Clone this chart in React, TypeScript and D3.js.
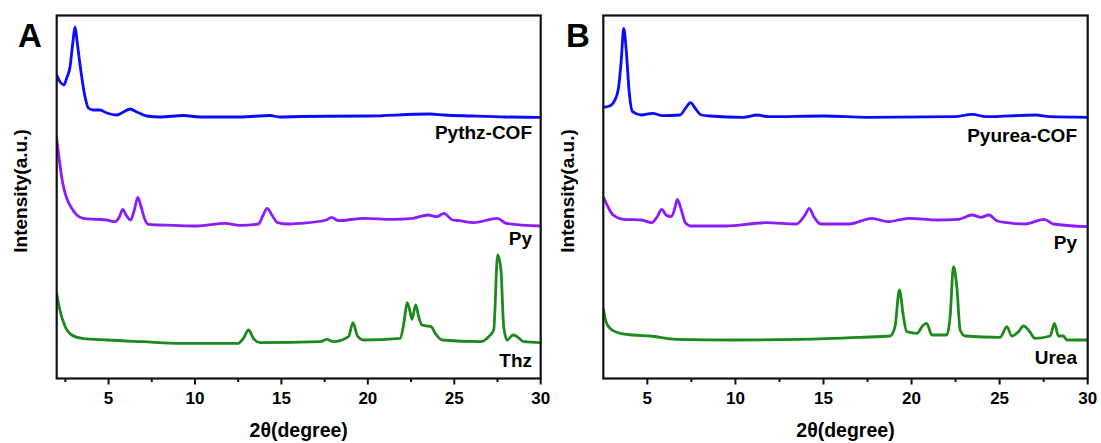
import React from "react";
import * as d3 from "d3";

// ---------- DATA (2θ in degrees, stacked intensity in a.u.) ----------
const pythzCOF: [number, number][] = [
  [2.0, 303], [2.2, 296], [2.42, 293], [2.58, 300], [2.77, 311], [2.93, 335], [3.06, 351],
  [3.19, 335], [3.39, 308], [3.64, 281], [3.83, 270], [4.12, 268], [4.5, 268], [4.9, 265],
  [5.47, 263], [5.86, 266], [6.24, 269], [6.63, 266], [7.21, 262], [7.98, 261], [9.33, 262.5],
  [10.3, 261], [12.6, 261], [14.35, 262.5], [14.9, 261], [16.1, 261.5], [20, 262], [23.6, 264],
  [24.4, 263], [26, 262], [28, 261], [30, 260.7],
];
const pyA: [number, number][] = [
  [2.0, 239.7], [2.15, 218], [2.35, 194.7], [2.58, 179.7], [2.87, 169.7], [3.16, 163],
  [3.54, 159.7], [4.32, 158.7], [4.9, 158], [5.38, 156.3], [5.63, 161.3], [5.82, 168.7],
  [6.01, 163], [6.28, 158], [6.49, 168], [6.69, 180.7], [6.88, 171.3], [7.11, 158], [7.3, 153.7],
  [8.75, 152.7], [10.1, 152], [11.75, 154.7], [12.6, 152.7], [13.67, 154], [13.9, 161.3],
  [14.18, 169.7], [14.45, 163], [14.78, 155.3], [15.32, 154], [16.09, 154.7], [17.6, 158],
  [17.9, 160.7], [18.3, 157.3], [19.76, 159.7], [21.4, 158.7], [22.6, 159.7], [23.47, 163],
  [24.0, 161.3], [24.4, 164.7], [24.9, 158], [25.3, 157.3], [26.1, 155.3], [27.5, 159.7],
  [28.0, 154.7], [30, 152],
];
const thz: [number, number][] = [
  [2.0, 84.7], [2.14, 71.3], [2.45, 53], [2.87, 43], [3.48, 39.7], [4.93, 38], [7.0, 36.3],
  [9.14, 34.7], [12.5, 34.7], [12.8, 39.7], [13.1, 48], [13.38, 39.7], [13.77, 35.3],
  [17.25, 36.3], [17.63, 38.7], [18.0, 36.3], [18.88, 41.3], [19.14, 55.3], [19.4, 42],
  [19.75, 38], [21.88, 39.7], [22.11, 58], [22.27, 75.3], [22.42, 68], [22.55, 58.7],
  [22.77, 73], [22.94, 61.3], [23.13, 53], [23.42, 52], [23.66, 51.3], [23.9, 44.7],
  [24.29, 38], [26.51, 36.3], [26.99, 41.3], [27.28, 48], [27.51, 123], [27.7, 108],
  [27.86, 51.3], [28.06, 38], [28.4, 43], [28.64, 41.3], [29.02, 36.3], [30, 35.3],
];
const pyureaCOF: [number, number][] = [
  [2.5, 270.7], [2.86, 272], [3.16, 278], [3.36, 289.7], [3.52, 318], [3.66, 349.7], [3.8, 328],
  [3.96, 288], [4.16, 266.3], [4.66, 263], [5.3, 264.7], [5.86, 262.3], [6.86, 263],
  [7.16, 269.7], [7.46, 275.3], [7.72, 269.7], [8.06, 263], [8.56, 262], [10.45, 260.7],
  [11.25, 263], [11.85, 261.3], [15.05, 262], [17.45, 260.7], [22.44, 261.3], [23.44, 263.7],
  [24.24, 261.3], [27.04, 263], [27.84, 261.3], [30, 260.7],
];
const pyB: [number, number][] = [
  [2.5, 181.3], [2.76, 171.3], [3.06, 163], [3.66, 158.7], [4.66, 158], [5.26, 155.3],
  [5.56, 161.3], [5.82, 168.7], [6.06, 163], [6.36, 161.3], [6.56, 169.7], [6.7, 178.7],
  [6.9, 169.7], [7.16, 155.3], [7.46, 152], [9.45, 152], [11.75, 155.3], [13.45, 154],
  [13.95, 163], [14.19, 169.7], [14.45, 161.3], [14.85, 154], [16.45, 154], [17.75, 159.7],
  [18.65, 156.3], [19.85, 159.7], [21.44, 158], [22.64, 158.7], [23.44, 163], [23.94, 160.7],
  [24.4, 163], [24.84, 157.3], [25.44, 155.3], [26.44, 154], [27.54, 158.7], [28.04, 154],
  [30, 151.3],
];
const urea: [number, number][] = [
  [2.5, 69.7], [2.65, 56.3], [2.88, 49.7], [3.45, 44.7], [4.2, 43], [5.15, 42], [6.67, 38.7],
  [9.88, 38], [13.67, 38.7], [17.08, 40.7], [18.78, 42], [19.06, 51.3], [19.31, 88],
  [19.54, 61.3], [19.73, 46.3], [20.3, 44.7], [20.67, 53], [20.86, 54.7], [21.15, 43],
  [22.0, 43], [22.19, 61.3], [22.38, 111.3], [22.57, 91.3], [22.76, 48], [23.04, 42],
  [25.03, 40.7], [25.41, 51.3], [25.69, 42], [26.07, 46.3], [26.35, 52], [26.64, 48],
  [27.01, 39.7], [27.87, 42], [28.11, 54.7], [28.34, 42], [28.62, 42], [28.82, 38], [30, 38],
];
const majorTicks = [5, 10, 15, 20, 25, 30];
const minorTicksA = [2.5, 7.5, 12.5, 17.5, 22.5, 27.5];
const minorTicksB = [7.5, 12.5, 17.5, 22.5, 27.5];
const labelsA = ["Pythz-COF", "Py", "Thz"];
const labelsB = ["Pyurea-COF", "Py", "Urea"];

const BLUE = "#0b0bff";
const PURPLE = "#8b1cff";
const GREEN = "#1e8a1e";
const FONT = "Arial, 'Liberation Sans', sans-serif";

type PanelProps = {
  letter: string;
  xDomain: [number, number];
  left: number;
  right: number;
  minor: number[];
  series: { data: [number, number][]; color: string }[];
  labels: string[];
  labelX: number;
  labelY: number[];
  letterX: number;
  yLabelX: number;
};

const TOP = 15.5;
const BOTTOM = 378.5;

function Panel(p: PanelProps) {
  const x = d3.scaleLinear().domain(p.xDomain).range([p.left, p.right]);
  const y = d3.scaleLinear().domain([0, 362.5]).range([378, 15.5]);
  const line = d3
    .line<[number, number]>()
    .x((d) => x(d[0]))
    .y((d) => y(d[1]))
    .curve(d3.curveMonotoneX);
  const cx = (p.left + p.right) / 2;
  return (
    <g>
      <defs>
        <clipPath id={"clip" + p.letter}>
          <rect x={p.left} y={TOP} width={p.right - p.left} height={BOTTOM - TOP} />
        </clipPath>
      </defs>
      <g clipPath={`url(#clip${p.letter})`}>
        {p.series.map((s, i) => (
          <path key={i} d={line(s.data) || ""} fill="none" stroke={s.color} strokeWidth={2.8} strokeLinejoin="round" />
        ))}
      </g>
      <rect x={p.left} y={TOP} width={p.right - p.left} height={BOTTOM - TOP} fill="none" stroke="#111" strokeWidth={2.2} />
      {majorTicks.map((t) => (
        <line key={"M" + t} x1={x(t)} x2={x(t)} y1={BOTTOM} y2={BOTTOM + 6} stroke="#111" strokeWidth={2} />
      ))}
      {p.minor.map((t) => (
        <line key={"m" + t} x1={x(t)} x2={x(t)} y1={BOTTOM} y2={BOTTOM + 3.5} stroke="#111" strokeWidth={2} />
      ))}
      {majorTicks.map((t) => (
        <text key={"L" + t} x={x(t)} y={404} textAnchor="middle" fontFamily={FONT} fontWeight="bold" fontSize={17} fill="#000">
          {t}
        </text>
      ))}
      <text x={cx} y={437} textAnchor="middle" fontFamily={FONT} fontWeight="bold" fontSize={19.5} fill="#000">
        2θ(degree)
      </text>
      <text
        transform={`translate(${p.yLabelX},191) rotate(-90)`}
        textAnchor="middle"
        fontFamily={FONT}
        fontWeight="bold"
        fontSize={19}
        fill="#000"
      >
        Intensity(a.u.)
      </text>
      {p.labels.map((l, i) => (
        <text key={l + i} x={p.labelX} y={p.labelY[i]} textAnchor="end" fontFamily={FONT} fontWeight="bold" fontSize={19} fill="#000">
          {l}
        </text>
      ))}
      <text x={p.letterX} y={47} fontFamily={FONT} fontWeight="bold" fontSize={33} fill="#000">
        {p.letter}
      </text>
    </g>
  );
}

export default function App() {
  return (
    <svg width={1101} height={443} style={{ position: "absolute", left: 0, top: 0, background: "#fff" }}>
      <rect width={1101} height={443} fill="#fff" />
      <Panel
        letter="A"
        xDomain={[2, 30]}
        left={56.7}
        right={540.7}
        minor={minorTicksA}
        series={[
          { data: pythzCOF, color: BLUE },
          { data: pyA, color: PURPLE },
          { data: thz, color: GREEN },
        ]}
        labels={labelsA}
        labelX={532}
        labelY={[138.5, 245, 367]}
        letterX={18}
        yLabelX={27}
      />
      <Panel
        letter="B"
        xDomain={[2.5, 30]}
        left={603.3}
        right={1087.7}
        minor={minorTicksB}
        series={[
          { data: pyureaCOF, color: BLUE },
          { data: pyB, color: PURPLE },
          { data: urea, color: GREEN },
        ]}
        labels={labelsB}
        labelX={1077}
        labelY={[141.5, 249, 364]}
        letterX={566}
        yLabelX={574}
      />
    </svg>
  );
}
